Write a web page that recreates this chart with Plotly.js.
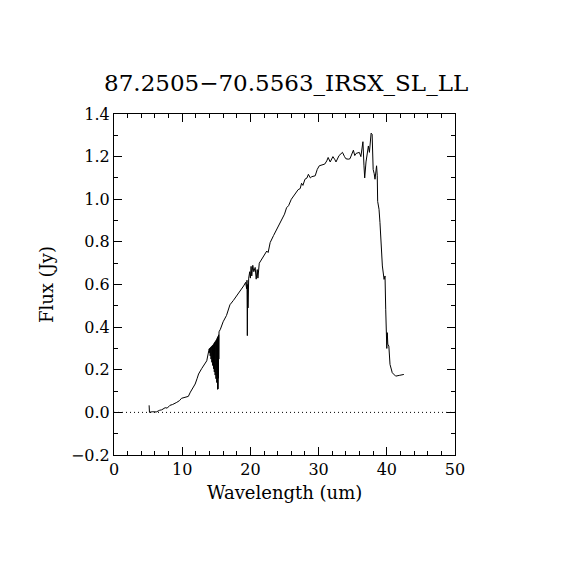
<!DOCTYPE html>
<html>
<head>
<meta charset="utf-8">
<script src="https://cdn.plot.ly/plotly-3.0.1.min.js"></script>
<style>html,body{margin:0;padding:0;background:#fff;}#chart{width:570px;height:570px;}</style>
</head>
<body>
<div id="chart"></div>
<script>
var titleText = "87.2505\u221270.5563_IRSX_SL_LL";
var xTitle = "Wavelength (um)";
var yTitle = "Flux (Jy)";

var wavelength = [
  5.15, 5.2, 5.6, 6.2, 6.7, 7.0, 7.5, 7.8, 8.2, 8.6, 9.2, 9.6, 9.9, 10.5, 10.9, 11.2, 11.5, 11.9, 12.2, 12.4, 12.85, 13.2, 13.6, 13.9,
  13.93, 13.96, 13.99, 14.02, 14.05, 14.08, 14.11, 14.14, 14.17, 14.2, 14.23, 14.26, 14.29, 14.32, 14.35, 14.38, 14.41, 14.44, 14.47, 14.5,
  14.53, 14.56, 14.59, 14.62, 14.65, 14.68, 14.71, 14.74, 14.77, 14.8, 14.83, 14.86, 14.89, 14.92, 14.95, 14.98, 15.01, 15.04, 15.07, 15.1,
  15.13, 15.16, 15.19, 15.22, 15.25, 15.28, 15.31, 15.34, 15.37, 15.4,
  15.6, 16.0, 16.5, 17.0, 17.5, 18.0, 18.5, 19.0, 19.3, 19.45, 19.5, 19.55, 19.6, 19.65, 19.75, 19.9, 20.0, 20.1, 20.2, 20.35, 20.5, 20.7, 20.85, 21.0, 21.1, 21.3, 21.65, 22.0, 22.4, 22.6, 22.9, 23.4, 23.85, 24.2, 24.6, 25.0, 25.3, 25.6, 26.0, 26.5, 27.0, 27.3, 27.5, 27.7, 28.0, 28.3, 28.5, 28.8, 29.0, 29.5, 29.8, 30.1, 30.5, 30.9, 31.2, 31.4, 31.7, 32.1, 32.4, 32.55, 33.0, 33.5, 33.8, 34.0, 34.35, 34.6, 35.1, 35.3, 35.5, 35.97, 36.2, 36.5, 36.65, 36.76, 36.95, 37.15, 37.3, 37.45, 37.6, 37.7, 37.85, 38.0, 38.15, 38.27, 38.5, 38.6, 38.66, 38.86, 39.0, 39.15, 39.35, 39.6, 39.74, 39.84, 39.93, 40.0, 40.07, 40.15, 40.3, 40.47, 40.8, 41.3, 41.9, 42.5
];
var flux = [
  0.033, 0.0, 0.003, 0.002, 0.01, 0.012, 0.022, 0.02, 0.033, 0.037, 0.047, 0.055, 0.066, 0.07, 0.075, 0.095, 0.112, 0.133, 0.16, 0.18, 0.205, 0.22, 0.242, 0.29,
  0.285, 0.298, 0.28, 0.300, 0.272, 0.302, 0.265, 0.304, 0.258, 0.306, 0.25, 0.308, 0.243, 0.31, 0.235, 0.312, 0.228, 0.314, 0.22, 0.316,
  0.212, 0.318, 0.205, 0.321, 0.197, 0.324, 0.19, 0.327, 0.182, 0.33, 0.175, 0.333, 0.167, 0.336, 0.158, 0.339, 0.15, 0.342, 0.14, 0.345,
  0.125, 0.35, 0.108, 0.354, 0.11, 0.358, 0.16, 0.364, 0.25, 0.378,
  0.39, 0.425, 0.455, 0.505, 0.525, 0.546, 0.57, 0.593, 0.61, 0.58, 0.62, 0.36, 0.6, 0.49, 0.63, 0.66, 0.63, 0.685, 0.64, 0.69, 0.66, 0.68, 0.625, 0.67, 0.63, 0.70, 0.718, 0.73, 0.757, 0.75, 0.797, 0.83, 0.859, 0.88, 0.906, 0.93, 0.96, 0.97, 1.0, 1.023, 1.045, 1.05, 1.075, 1.065, 1.094, 1.1, 1.117, 1.1, 1.106, 1.11, 1.14, 1.157, 1.16, 1.165, 1.18, 1.196, 1.175, 1.2, 1.185, 1.175, 1.205, 1.22, 1.2, 1.19, 1.188, 1.19, 1.23, 1.205, 1.215, 1.22, 1.2, 1.27, 1.16, 1.10, 1.175, 1.235, 1.25, 1.22, 1.285, 1.31, 1.305, 1.14, 1.12, 1.094, 1.157, 1.11, 0.99, 0.953, 0.89, 0.765, 0.687, 0.624, 0.64, 0.484, 0.358, 0.30, 0.374, 0.32, 0.311, 0.225, 0.186, 0.170, 0.174, 0.178
];
var zeroLineX = [0, 50];
var zeroLineY = [0, 0];

var fontFam = "DejaVu Serif, Liberation Serif, serif";

var traces = [
  {x: zeroLineX, y: zeroLineY, mode: 'lines', line: {color: '#000', width: 1, dash: '1px,3px'}, hoverinfo: 'skip'},
  {x: wavelength, y: flux, mode: 'lines', line: {color: '#000', width: 1}}
];

var axisCommon = {
  showgrid: false, zeroline: false, showline: true, linecolor: '#000', linewidth: 1,
  mirror: 'allticks', ticks: 'inside', ticklen: 8, tickwidth: 1, tickcolor: '#000',
  tickfont: {family: fontFam, size: 16, color: '#000'}
};

var layout = {
  width: 570, height: 570,
  paper_bgcolor: '#fff', plot_bgcolor: '#fff',
  showlegend: false,
  margin: {l: 114, r: 115, t: 114, b: 115},
  title: {text: titleText, x: 0.502, xanchor: 'center', y: 0.854, yanchor: 'middle', font: {family: fontFam, size: 23, color: '#000'}},
  xaxis: Object.assign({}, axisCommon, {
    range: [0, 50], dtick: 10, tick0: 0,
    minor: {dtick: 2, ticks: 'inside', ticklen: 4, tickcolor: '#000', showgrid: false}
  }),
  yaxis: Object.assign({}, axisCommon, {
    range: [-0.2, 1.4], dtick: 0.2, tick0: 0, tickformat: '.1f',
    minor: {dtick: 0.1, ticks: 'inside', ticklen: 4, tickcolor: '#000', showgrid: false},
    title: {text: yTitle, font: {family: fontFam, size: 18, color: '#000'}, standoff: 12}
  }),
  annotations: [
    {text: xTitle, xref: 'paper', yref: 'paper', x: 0.5, y: -0.11, xanchor: 'center', yanchor: 'middle', showarrow: false, font: {family: fontFam, size: 18, color: '#000'}}
  ]
};

Plotly.newPlot('chart', traces, layout, {staticPlot: true, displayModeBar: false});
</script>
</body>
</html>
